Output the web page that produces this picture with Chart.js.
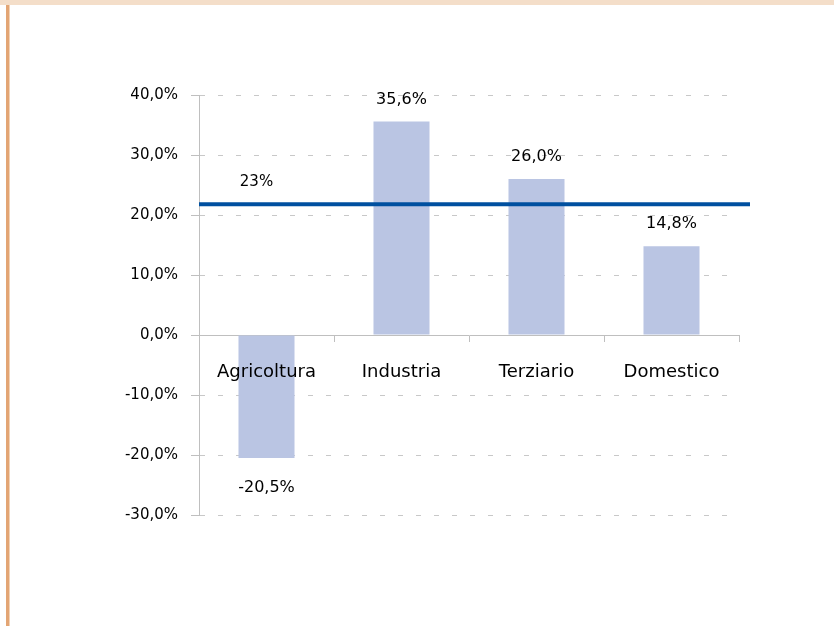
<!DOCTYPE html>
<html>
<head>
<meta charset="utf-8">
<script src="https://cdn.jsdelivr.net/npm/chart.js@4.4.1/dist/chart.umd.min.js"></script>
<style>
  html, body { margin: 0; padding: 0; background: #ffffff; }
  #wrap { position: relative; width: 834px; height: 626px; }
</style>
</head>
<body>
<div id="wrap"><canvas id="c" width="834" height="626"></canvas></div>
<script>
// ---- data ----
const categories = ['Agricoltura', 'Industria', 'Terziario', 'Domestico'];
const variation = [-20.5, 35.6, 26.0, 14.8];
const valueLabels = ['-20,5%', '35,6%', '26,0%', '14,8%'];
const averageValue = [21.8];
const averageLabel = ['23%'];
const yTicks = [-30, -20, -10, 0, 10, 20, 30, 40];

const FONT = "'DejaVu Sans', sans-serif";

const framePlugin = {
  id: 'frame',
  beforeDraw(chart) {
    const ctx = chart.ctx;
    ctx.save();
    ctx.fillStyle = '#ffffff';
    ctx.fillRect(0, 0, chart.width, chart.height);
    ctx.fillStyle = '#F4DEC9';
    ctx.fillRect(0, 0, chart.width, 5);
    ctx.fillStyle = '#E3A574';
    ctx.fillRect(6, 5, 3, chart.height - 5);
    ctx.fillStyle = '#F2D2B6';
    ctx.fillRect(9, 5, 1, chart.height - 5);
    ctx.restore();
  }
};

const overlayPlugin = {
  id: 'overlay',
  afterDraw(chart) {
    const ctx = chart.ctx;
    const x = chart.scales.x, y = chart.scales.y;
    const area = chart.chartArea;
    ctx.save();
    // average line
    const yAvg = y.getPixelForValue(averageValue[0]);
    ctx.strokeStyle = '#0050A0';
    ctx.lineWidth = 4;
    ctx.beginPath();
    ctx.moveTo(area.left, yAvg);
    ctx.lineTo(area.right + 11, yAvg);
    ctx.stroke();
    ctx.font = '15px ' + FONT;
    ctx.fillStyle = '#000000';
    ctx.textAlign = 'center';
    ctx.textBaseline = 'middle';
    ctx.fillText(averageLabel[0], x.getPixelForValue(0) - 10, yAvg - 22);
    // value labels
    ctx.font = '16px ' + FONT;
    const meta = chart.getDatasetMeta(0);
    meta.data.forEach((bar, i) => {
      const v = variation[i];
      const ly = v >= 0 ? bar.y - 22 : bar.y + 30;
      ctx.fillText(valueLabels[i], bar.x, ly);
    });
    ctx.restore();
  }
};

new Chart(document.getElementById('c'), {
  type: 'bar',
  data: {
    labels: categories,
    datasets: [{
      data: variation,
      backgroundColor: '#BAC5E3',
      borderWidth: 0,
      categoryPercentage: 1,
      barPercentage: 0.415
    }]
  },
  options: {
    responsive: false,
    animation: false,
    devicePixelRatio: 1,
    layout: { padding: { left: 0, right: 95, top: 95, bottom: 111 } },
    plugins: { legend: { display: false }, tooltip: { enabled: false } },
    scales: {
      y: {
        min: -30, max: 40,
        afterFit(scale) { scale.width = 199; },
        afterBuildTicks(scale) { scale.ticks = yTicks.map(v => ({ value: v })); },
        ticks: {
          padding: 13,
          color: '#000000',
          font: { family: FONT, size: 15 },
          callback: (v) => v.toFixed(1).replace('.', ',') + '%'
        },
        grid: {
          color: '#C8C8C8',
          tickBorderDash: [],
          tickColor: '#BFBFBF',
          tickLength: 8,
          lineWidth: 1
        },
        border: { display: true, color: '#BFBFBF', width: 1, dash: [5, 13] }
      },
      x: {
        position: { y: 0 },
        ticks: {
          z: 1,
          padding: 21,
          color: '#000000',
          font: { family: FONT, size: 18 }
        },
        grid: {
          offset: true,
          drawOnChartArea: false,
          drawTicks: true,
          tickLength: 6,
          tickColor: '#BFBFBF'
        },
        border: { display: true, color: '#BFBFBF', width: 1 }
      }
    }
  },
  plugins: [framePlugin, overlayPlugin]
});
</script>
</body>
</html>
